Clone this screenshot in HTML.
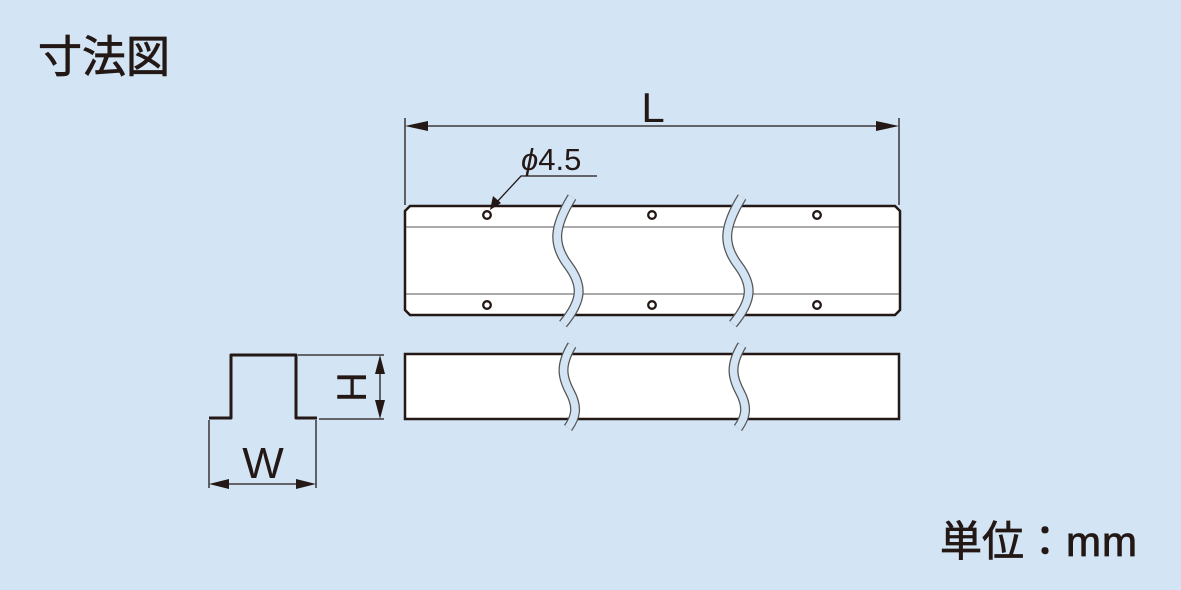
<!DOCTYPE html>
<html><head><meta charset="utf-8"><style>
html,body{margin:0;padding:0;background:#d3e4f5;}
svg{display:block}
text{font-family:"Liberation Sans","Noto Sans CJK JP",sans-serif;fill:#231815}
</style></head><body>
<svg width="1181" height="590" viewBox="0 0 1181 590">
<rect width="1181" height="590" fill="#d3e4f5"/>
<text x="38" y="72" font-size="44" stroke="#231815" stroke-width="0.8">寸法図</text>
<text x="940" y="556" font-size="42" stroke="#231815" stroke-width="0.8">単位：m<tspan dx="1">m</tspan></text>

<!-- L dimension -->
<line x1="405" y1="118" x2="405" y2="205" stroke="#231815" stroke-width="1.3"/>
<line x1="899" y1="118" x2="899" y2="205" stroke="#231815" stroke-width="1.3"/>
<line x1="427" y1="126" x2="877" y2="126" stroke="#231815" stroke-width="1.3"/>
<path d="M405,126 L428,121 L428,131 Z M899,126 L876,121 L876,131 Z" fill="#231815"/>
<text x="653" y="122" font-size="42" text-anchor="middle">L</text>

<!-- top view -->
<path d="M410,206 L895,206 L900,211 L900,310 L895,315 L410,315 L405,310 L405,211 Z" fill="#fff" stroke="#231815" stroke-width="2.5"/>
<line x1="406" y1="227" x2="899" y2="227" stroke="#555" stroke-width="1"/>
<line x1="406" y1="294" x2="899" y2="294" stroke="#555" stroke-width="1"/>
<g fill="#fff" stroke="#231815" stroke-width="2.3">
<circle cx="487" cy="215" r="3.8"/><circle cx="652" cy="215" r="3.8"/><circle cx="817" cy="215" r="3.8"/>
<circle cx="487" cy="305" r="3.8"/><circle cx="652" cy="305" r="3.8"/><circle cx="817" cy="305" r="3.8"/>
</g>
<!-- phi leader -->
<text x="521" y="170" font-size="31"><tspan font-style="italic">ϕ</tspan>4.5</text>
<polyline points="597,176 521,176 496,203" fill="none" stroke="#231815" stroke-width="1.3"/>
<path d="M490,210 L493,196 L501,203 Z" fill="#231815"/>

<!-- front view -->
<rect x="405" y="354" width="494" height="65" fill="#fff" stroke="#231815" stroke-width="2.5"/>

<!-- break waves -->
<g fill="none">
<g id="w1">
<path d="M572,197 C553,228 553,245 568,265 C583,285 583,300 563,324" stroke="#555" stroke-width="10"/>
<path d="M572,197 C553,228 553,245 568,265 C583,285 583,300 563,324" stroke="#d3e4f5" stroke-width="7.5"/>
<path d="M572,345 C560,365 562,377 570,392 C578,407 576,417 568,428" stroke="#555" stroke-width="10"/>
<path d="M572,345 C560,365 562,377 570,392 C578,407 576,417 568,428" stroke="#d3e4f5" stroke-width="7.5"/>
</g>
<use href="#w1" x="170"/>
</g>

<!-- profile -->
<polyline points="209,418 231,418 231,355 296,355 296,418 317,418" fill="none" stroke="#231815" stroke-width="3" stroke-linejoin="round"/>
<line x1="298" y1="355" x2="384" y2="355" stroke="#231815" stroke-width="1.3"/>
<line x1="319" y1="419" x2="384" y2="419" stroke="#231815" stroke-width="1.3"/>
<line x1="380" y1="372" x2="380" y2="402" stroke="#231815" stroke-width="1.3"/>
<path d="M380,355 L375,374 L385,374 Z M380,419 L375,400 L385,400 Z" fill="#231815"/>
<text x="0" y="0" font-size="42" text-anchor="middle" transform="translate(337,387) rotate(90)">H</text>
<line x1="209" y1="420" x2="209" y2="488" stroke="#231815" stroke-width="1.3"/>
<line x1="316" y1="420" x2="316" y2="488" stroke="#231815" stroke-width="1.3"/>
<line x1="228" y1="484" x2="298" y2="484" stroke="#231815" stroke-width="1.3"/>
<path d="M209,484 L229,479 L229,489 Z M316,484 L296,479 L296,489 Z" fill="#231815"/>
<text x="263" y="478" font-size="44" text-anchor="middle">W</text>
</svg>
</body></html>
